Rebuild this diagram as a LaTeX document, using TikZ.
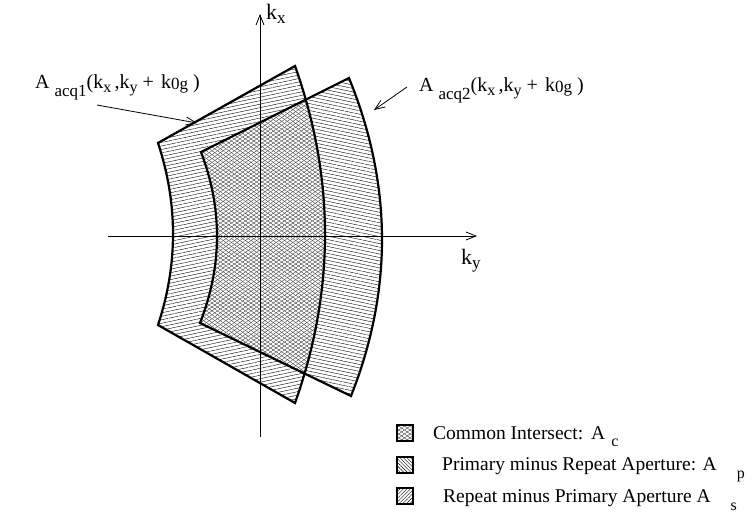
\documentclass[tikz,border=0pt]{standalone}
\usepackage{fontspec}
\setmainfont{Liberation Serif}
\usetikzlibrary{patterns.meta,arrows.meta}
\newcommand\lowtxt[3]{\raisebox{#1}{\fontsize{#2}{#2}\selectfont #3}}
\def\pone{(158,143) -- (295,66) .. controls (335,178.3) and (335,290.7) .. (295,403) -- (158,325) .. controls (178,264.3) and (178,203.7) .. cycle}
\def\ptwo{(201,152) -- (349,78) .. controls (392.3,184) and (393,290) .. (351,396) -- (200,323) .. controls (222.3,266) and (222.7,209) .. cycle}
\tikzset{
  outline/.style={line width=2.2pt, line join=miter},
  axis/.style={line width=0.8pt, -{Straight Barb[length=10pt,width=8pt,line width=0.8pt]}},
  pointer/.style={line width=0.8pt, -{Straight Barb[length=10pt,width=8pt,line width=0.8pt]}},
  primfill/.style={pattern={Lines[angle=12,distance=3.4pt,line width=0.4pt]}},
  repfill/.style={pattern={Lines[angle=-12,distance=3.4pt,line width=0.4pt]}},
  meshA/.style={pattern={Lines[angle=35,distance=3.2pt,line width=0.4pt]}, pattern color=black!75},
  meshB/.style={pattern={Lines[angle=-35,distance=3.2pt,line width=0.4pt]}, pattern color=black!75},
  legbox/.style={line width=1.6pt},
  lbl/.style={inner sep=0pt, font=\fontsize{20}{22}\selectfont},
  axlbl/.style={inner sep=0pt, font=\fontsize{22}{24}\selectfont},
  legtxt/.style={inner sep=0pt, anchor=base west, font=\fontsize{19.5}{22}\selectfont}
}
\begin{document}
\begin{tikzpicture}[x=1pt,y=-1pt]
\useasboundingbox (0,0) rectangle (752,514);
% fills
\fill[white] \pone;
\fill[primfill] \pone;
\fill[white] \ptwo;
\fill[repfill] \ptwo;
\begin{scope}
  \clip \pone;
  \fill[white] \ptwo;
  \fill[meshA] \ptwo;
  \fill[meshB] \ptwo;
\end{scope}
% axes
\coordinate (yL) at (108,236);
\coordinate (yR) at (477,236);
\coordinate (xB) at (260,437);
\coordinate (xT) at (260,14);
\draw[axis] (yL) -- (yR);
\draw[axis] (xB) -- (xT);
% outlines
\draw[outline] \pone;
\draw[outline] \ptwo;
% axis labels
\node[axlbl, anchor=north west] (kx) at (266,4) {k\lowtxt{-4pt}{17}{x}};
\node[axlbl, anchor=north west] (ky) at (461,249) {k\lowtxt{-4pt}{17}{y}};
% shape labels
\node[lbl, anchor=base west] (l1) at (35,88) {A\hspace{5pt}\lowtxt{-8pt}{17}{acq1}(k\lowtxt{-4pt}{16}{x}\,,k\lowtxt{-4pt}{16}{y} +\hspace{7pt}k\lowtxt{-1pt}{17}{0g} )};
\node[lbl, anchor=base west] (l2) at (419,91) {A\hspace{5pt}\lowtxt{-8pt}{17}{acq2}(k\lowtxt{-4pt}{16}{x}\,,k\lowtxt{-4pt}{16}{y} +\hspace{7pt}k\lowtxt{-1pt}{17}{0g} )};
\coordinate (a1s) at (97,105);
\coordinate (a1e) at (197,123);
\coordinate (a2s) at (407,87);
\coordinate (a2e) at (374,110);
\draw[pointer] (a1s) -- (a1e);
\draw[pointer] (a2s) -- (a2e);
% legend
\fill[white] (397,425) rectangle (413,441);
\fill[meshA] (397,425) rectangle (413,441);
\fill[meshB] (397,425) rectangle (413,441);
\draw[legbox] (397,425) rectangle (413,441);
\node[legtxt] (t1) at (433,439) {Common Intersect:\hspace{8pt}A\hspace{6pt}\lowtxt{-7pt}{16}{c}};
\fill[pattern={Lines[angle=-45,distance=2.5pt,line width=0.4pt]}] (397,457) rectangle (413,473);
\draw[legbox] (397,457) rectangle (413,473);
\node[legtxt] (t2) at (442,470) {Primary minus Repeat Aperture: A\hspace{20pt}\lowtxt{-8pt}{16}{p}};
\fill[pattern={Lines[angle=45,distance=2.5pt,line width=0.4pt]}] (397,488) rectangle (413,504);
\draw[legbox] (397,488) rectangle (413,504);
\node[legtxt] (t3) at (443,502) {Repeat minus Primary Aperture A\hspace{20pt}\lowtxt{-8pt}{16}{s}};
\end{tikzpicture}
\end{document}
